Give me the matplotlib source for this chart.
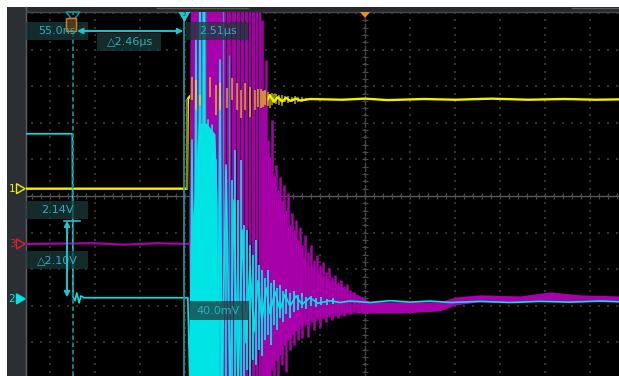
import matplotlib
matplotlib.use("Agg")
import matplotlib.pyplot as plt
from matplotlib.patches import Rectangle, Polygon
import numpy as np

# ---- screen scale (pixels) ----
W, H = 619, 376
T0_PX, PX_US = 70.5, 45.3      # 1 us/div
Y0_PX, PX_DIV = 196.0, 36.6    # centre line, px per div

# channel ground markers (div from centre)
CH1_POS = 0.20
CH3_POS = -1.31
CH2_POS = -2.81     # ch2: 1 V/div

# cursors
CUR1_T, CUR2_T = 0.055, 2.514
HCUR_A, HCUR_B = 2.14, 0.04

# ---- ch1 (yellow, div) ----
ch1_t = [-0.99, 2.57, 2.59, 2.64, 2.68, 2.73, 3.00, 3.30, 3.70, 4.00,
         4.18, 4.23, 4.27, 4.32, 4.40, 4.49, 4.58, 4.67, 4.76, 4.85,
         4.98, 5.07, 5.29, 6.00, 6.50, 7.00, 7.80, 8.50, 9.30, 10.10,
         10.90, 11.60, 12.11]
ch1_v = [0.00, 0.00, 2.45, 2.53, 2.55, 2.42, 2.60, 2.30, 2.55, 2.35,
         2.50, 2.32, 2.56, 2.36, 2.55, 2.38, 2.50, 2.38, 2.48, 2.40,
         2.46, 2.41, 2.45, 2.43, 2.46, 2.42, 2.45, 2.43, 2.46, 2.43,
         2.45, 2.43, 2.44]
ch1_spk_t = [2.68, 2.77, 2.86, 3.08, 3.21, 3.30, 3.46, 3.57, 3.68, 3.76, 3.85,
             3.96, 4.07, 4.14, 4.20, 4.25, 4.30, 4.36, 4.40, 4.45, 4.49, 4.54,
             4.60, 4.67, 4.73, 4.80, 4.88, 4.96, 5.03, 5.11, 5.20]
ch1_spk_lo = [2.42, 2.14, 2.28, 2.50, 2.01, 2.14, 2.20, 2.42, 2.14, 1.93, 2.14,
              1.95, 2.14, 2.23, 2.20, 2.23, 2.28, 2.25, 2.20, 2.28, 2.33, 2.31,
              2.30, 2.25, 2.36, 2.34, 2.36, 2.31, 2.38, 2.36, 2.40]
ch1_spk_hi = [3.05, 2.96, 2.55, 3.05, 2.83, 2.88, 2.75, 3.02, 2.88, 2.69, 2.88,
              2.77, 2.69, 2.72, 2.72, 2.66, 2.69, 2.64, 2.60, 2.61, 2.58, 2.58,
              2.55, 2.55, 2.52, 2.53, 2.50, 2.53, 2.50, 2.50, 2.49]

# ---- ch2 (cyan, V) ----
ch2_t = [-0.99, 0.04, 0.055, 0.10, 0.14, 0.19, 0.23, 0.30, 2.59,
         2.638, 2.682, 2.726, 2.770, 2.815, 2.859, 2.903, 2.947, 2.991, 3.035,
         3.079, 3.124, 3.168, 3.212, 3.256, 3.300, 3.344, 3.433, 3.521, 3.609,
         3.698, 3.786, 3.874, 3.962, 4.051, 4.139, 4.227, 4.316, 4.404, 4.514,
         4.625, 4.735, 4.845, 4.978, 5.110, 5.287, 5.464, 5.729, 5.949, 6.170,
         6.61, 7.06, 7.50, 7.94, 8.38, 9.04, 9.70, 10.36, 11.03, 11.69, 12.11]
ch2_v = [4.51, 4.51, 0.05, -0.05, 0.16, -0.11, 0.08, 0.03, 0.03,
         -2.5, 4.34, -2.5, 7.08, -2.5, 8.5, -2.5, 8.5, -2.5, 4.89,
         -2.5, 4.75, -2.5, 3.80, -2.5, 6.53, -2.5, 3.66, -2.5, 2.70,
         -2.5, 1.89, -1.20, 0.90, -0.90, 0.50, -0.60, 0.30, -0.40, 0.20,
         -0.30, 0.12, -0.20, 0.08, -0.15, 0.03, -0.12, -0.05, -0.10, -0.06,
         -0.10, -0.05, -0.09, -0.06, -0.10, -0.07, -0.10, -0.07, -0.09, -0.06, -0.08]
ch2_core_t = [2.64, 2.75, 2.82, 3.00, 3.19, 3.24]
ch2_core_hi = [1.50, 3.06, 4.80, 4.80, 4.50, 2.50]
ch2_core_lo = [-2.5, -2.5, -2.5, -2.5, -2.5, -2.5]
ch2_col_t = [3.300, 3.433, 3.565, 3.631, 3.698, 3.764, 3.830, 3.896, 3.962, 4.029,
             4.095, 4.161, 4.227, 4.294, 4.360, 4.426, 4.492, 4.558, 4.625, 4.691,
             4.757, 4.845, 4.934, 5.022, 5.110, 5.199, 5.309, 5.419, 5.530, 5.662,
             5.795]
ch2_col_hi = [4.48, 3.52, 3.25, 4.07, 2.70, 3.80, 2.02, 1.89, 1.48, 1.20,
              1.61, 0.93, 0.79, 0.57, 0.79, 0.44, 0.52, 0.30, 0.38, 0.22,
              0.27, 0.16, 0.22, 0.11, 0.16, 0.05, 0.08, 0.03, 0.05, 0.00,
              0.03]
ch2_col_lo = [-2.5, -2.5, -2.5, -2.5, -2.5, -2.5, -2.5, -1.94, -2.5, -1.67,
              -1.80, -1.39, -1.56, -1.12, -0.98, -1.26, -0.71, -0.85, -0.52, -0.63,
              -0.41, -0.52, -0.36, -0.30, -0.25, -0.27, -0.19, -0.22, -0.16, -0.16,
              -0.14]
ch2_spk_t = [2.84, 2.90, 2.93, 2.97, 3.366, 3.499]
ch2_spk_hi = [8.5, 8.5, 8.5, 8.5, 8.5, 6.67]
ch2_spk_lo = [-2.5, -2.5, -2.5, -2.5, -2.5, -2.5]

# ---- ch3 (magenta, div) ----
ch3_base_t = [-0.99, 0.50, 1.20, 1.90, 2.62]
ch3_base_v = [0.00, 0.02, -0.02, 0.02, 0.00]
ch3_sat_t = [2.616, 2.66, 4.21]
ch3_sat_hi = [0.0, 7.0, 7.0]
ch3_sat_lo = [0.0, -4.0, -4.0]
ch3_gap_t = [3.43, 3.54, 3.65, 3.74, 3.83, 3.92, 3.98, 4.07, 4.14, 4.20]
ch3_core_t = [4.21, 4.40, 4.60, 4.80, 5.00, 5.30, 5.60, 5.90, 6.20, 6.43]
ch3_core_hi = [2.50, 1.30, 0.70, 0.20, -0.20, -0.60, -0.90, -1.10, -1.30, -1.45]
ch3_core_lo = [-4.00, -3.50, -2.90, -2.55, -2.35, -2.15, -2.02, -1.95, -1.90, -1.86]
ch3_col_t = [4.227, 4.272, 4.316, 4.360, 4.404, 4.448, 4.492, 4.536, 4.581, 4.625,
             4.669, 4.713, 4.757, 4.801, 4.845, 4.890, 4.934, 4.978, 5.022, 5.066,
             5.110, 5.177, 5.243, 5.309, 5.375, 5.442, 5.508, 5.574, 5.640, 5.706,
             5.773, 5.839, 5.905, 5.971, 6.038, 6.104, 6.170, 6.258, 6.347, 6.435]
ch3_col_hi = [6.12, 4.21, 5.03, 2.84, 2.38, 3.39, 1.89, 2.16, 1.48, 1.83,
              1.20, 1.61, 0.93, 1.39, 0.52, 0.85, 0.38, 0.66, 0.11, 0.46,
              -0.03, 0.25, -0.22, -0.03, -0.44, -0.30, -0.57, -0.49, -0.77, -0.66,
              -0.90, -0.85, -1.04, -0.98, -1.15, -1.09, -1.26, -1.31, -1.39, -1.45]
ch3_col_lo = [-4.0, -4.0, -4.0, -4.0, -4.0, -3.44, -4.0, -3.17, -4.0, -3.03,
              -3.31, -2.76, -3.50, -2.62, -2.90, -2.49, -2.76, -2.35, -2.62, -2.21,
              -2.57, -2.13, -2.54, -2.08, -2.35, -2.02, -2.27, -1.97, -2.13, -1.94,
              -2.08, -1.91, -2.02, -1.89, -1.97, -1.86, -1.91, -1.83, -1.89, -1.86]
ch3_band_t = [6.39, 6.61, 7.27, 8.16, 8.49, 9.04, 9.92, 10.58, 11.25, 12.11]
ch3_band_hi = [-1.42, -1.58, -1.58, -1.58, -1.45, -1.39, -1.42, -1.31, -1.39, -1.42]
ch3_band_lo = [-1.89, -1.89, -1.89, -1.83, -1.67, -1.58, -1.58, -1.56, -1.58, -1.58]

YEL, CYA, MAG = '#f2f000', '#00e4e6', '#a800aa'
TEAL, RO_TXT = '#16a0a4', '#2fb0b8'


def fx(t):
    return T0_PX + PX_US * t


def fy(d):
    return Y0_PX - PX_DIV * d


fig = plt.figure(figsize=(W / 100, H / 100), dpi=100, facecolor='white')

# 背景・グリッド (pixel)
bg = fig.add_axes([0, 0, 1, 1])
bg.set_xlim(0, W)
bg.set_ylim(H, 0)
bg.axis('off')
bg.add_patch(Rectangle((7, 7), 19, H - 7, fc='#2b2e33', ec='none'))
bg.add_patch(Rectangle((26, 7), W - 26, 5, fc='#26282c', ec='none'))
bg.add_patch(Rectangle((26, 12), W - 26, H - 12, fc='black', ec='none'))
bg.plot([25.5, 25.5], [7, H], color='#5c6066', lw=1)
bg.plot([26, W], [12, 12], color='#44474c', lw=1)
bg.plot([157, 248], [8, 8], color='#55585d', lw=1)
bg.plot([572, W], [8, 8], color='#55585d', lw=1)

gx = 365 + 45 * np.arange(-7, 6)
gy = 196 + 36.6 * np.arange(-5, 6)
minor_y = np.arange(196 - 36.6 * 5, H, 36.6 / 5)
minor_x = 365 + 9 * np.arange(-37, 29)
bg.scatter(np.repeat(gx, len(minor_y)), np.tile(minor_y, len(gx)),
           s=1.2, marker='s', color='#333333', linewidths=0)
bg.scatter(np.tile(minor_x, len(gy)), np.repeat(gy, len(minor_x)),
           s=1.2, marker='s', color='#333333', linewidths=0)
bg.plot([365, 365], [12, H], color='#484848', lw=1, ls=(0, (3, 1)))
bg.hlines(minor_y, 362, 368, color='#484848', lw=0.8)
bg.plot([26, W], [196, 196], color='#5a5a5a', lw=1)
bg.vlines(minor_x, 193, 199, color='#4a4a4a', lw=0.8)

# 波形
ax = fig.add_axes([26 / W, 0, (W - 26) / W, (H - 12) / H])
ax.set_facecolor('none')
ax.set_xlim((26 - T0_PX) / PX_US, (W - T0_PX) / PX_US)
ax.set_ylim((Y0_PX - H) / PX_DIV, (Y0_PX - 12) / PX_DIV)
ax.axis('off')

# ch1 trace under the ringing, its spikes on top
ax.plot(ch1_t, np.add(ch1_v, CH1_POS), color=YEL, lw=1.7, zorder=1.9)
ax.vlines(ch1_t[1] + 0.01, ch1_v[1] + CH1_POS, ch1_v[2] + CH1_POS,
          color='#8c8400', lw=1.4, zorder=1.95)

ax.fill_between(ch3_sat_t, np.add(ch3_sat_lo, CH3_POS), np.add(ch3_sat_hi, CH3_POS),
                color=MAG, lw=0, zorder=2)
ax.vlines(ch3_gap_t, -4.0 + CH3_POS, 7.0 + CH3_POS, color='#3a003a', lw=0.8, zorder=2.1)
ax.fill_between(ch3_core_t, np.add(ch3_core_lo, CH3_POS), np.add(ch3_core_hi, CH3_POS),
                color=MAG, lw=0, alpha=0.8, zorder=2.15)
ax.vlines(ch3_col_t, np.add(ch3_col_lo, CH3_POS), np.add(ch3_col_hi, CH3_POS),
          color=MAG, lw=1.8, zorder=2.2)
ax.fill_between(ch3_band_t, np.add(ch3_band_lo, CH3_POS), np.add(ch3_band_hi, CH3_POS),
                color=MAG, lw=0, zorder=2.2)
ax.plot(ch3_base_t, np.add(ch3_base_v, CH3_POS), color=MAG, lw=1.6, zorder=2.3)

ax.fill_between(ch2_core_t, np.add(ch2_core_lo, CH2_POS), np.add(ch2_core_hi, CH2_POS),
                color=CYA, lw=0, zorder=3)
ax.vlines(ch2_col_t, np.add(ch2_col_lo, CH2_POS), np.add(ch2_col_hi, CH2_POS),
          color=CYA, lw=1.4, alpha=0.9, zorder=3.05)
ax.plot(ch2_t, np.add(ch2_v, CH2_POS), color=CYA, lw=1.2, zorder=3.1)
ax.vlines(ch2_spk_t, np.add(ch2_spk_lo, CH2_POS), np.add(ch2_spk_hi, CH2_POS),
          color=CYA, lw=1.0, alpha=0.6, zorder=3.2)

ax.vlines(ch1_spk_t, np.add(ch1_spk_lo, CH1_POS), np.add(ch1_spk_hi, CH1_POS),
          color=YEL, lw=1.1, alpha=0.75, zorder=4.1)

ax.axvline(CUR1_T, color='#0f8c90', lw=1.3, ls=(0, (2.5, 1.5)), zorder=5)
ax.axvline(CUR2_T, color=TEAL, lw=1.2, zorder=5)

# 表示・カーソル読み値 (pixel)
fg = fig.add_axes([0, 0, 1, 1])
fg.set_facecolor('none')
fg.set_xlim(0, W)
fg.set_ylim(H, 0)
fg.axis('off')


def readout(x0, y0, x1, y1, tx, txt):
    fg.add_patch(Rectangle((x0, y0), x1 - x0, y1 - y0, fc='#1c3a3c', ec='none', alpha=0.75))
    fg.text(tx, (y0 + y1) / 2, txt, color=RO_TXT, fontsize=8, ha='center', va='center')


readout(26, 22, 88, 40, 57, f'{CUR1_T * 1000:.1f}ns')
readout(97, 33, 161, 51, 130, f'△{CUR2_T - CUR1_T:.2f}µs')
readout(186, 22, 248, 40, 218, f'{CUR2_T:.2f}µs')
readout(26, 201, 88, 219, 57, f'{HCUR_A:.2f}V')
readout(26, 251, 88, 269, 57, f'△{HCUR_A - HCUR_B:.2f}V')
readout(190, 301, 249, 320, 218, f'{HCUR_B * 1000:.1f}mV')

arrow_kw = dict(arrowstyle='<|-|>', color='#19c5d5', lw=1.4, mutation_scale=8,
                shrinkA=0, shrinkB=0)
fg.annotate('', xy=(fx(CUR1_T) + 4, 31), xytext=(fx(CUR2_T) - 1, 31), arrowprops=arrow_kw)
fg.annotate('', xy=(67, fy(CH2_POS + HCUR_B)), xytext=(67, fy(CH2_POS + HCUR_A)),
            arrowprops=arrow_kw)
fg.plot([64, 80], [fy(CH2_POS + HCUR_A)] * 2, color='#19c5d5', lw=1.2)

# cursor / trigger markers on top edge
c1 = fx(CUR1_T)
c2 = fx(CUR2_T)
fg.add_patch(Polygon([(c1 - 7, 12), (c1 + 7, 12), (c1, 21)], closed=True,
                     fc='none', ec=TEAL, lw=1))
fg.add_patch(Rectangle((c1 - 7, 18), 10, 13, fc='#4a3a1c', ec='#d08020', lw=1))
fg.add_patch(Polygon([(c2 - 6, 12), (c2 + 6, 12), (c2, 22)], closed=True,
                     fc='#20c8d0', ec='none'))
fg.text(c2, 15, '2', fontsize=4, color='#0a3a3a', ha='center', va='center')
fg.add_patch(Polygon([(360, 12), (370, 12), (365, 18)], closed=True,
                     fc='#f08c1e', ec='none'))

# channel markers
for pos, lab, col, filled in [(CH1_POS, '1', YEL, False), (CH3_POS, '3', '#d8203c', False),
                              (CH2_POS, '2', CYA, True)]:
    yy = fy(pos)
    fg.text(12, yy, lab, fontsize=7.5, color=col, ha='center', va='center')
    fg.add_patch(Polygon([(16.5, yy - 5), (16.5, yy + 5), (25, yy)], closed=True,
                         fc=col if filled else 'none', ec=col, lw=1))

fig.savefig('out.png', dpi=100, facecolor='white')
